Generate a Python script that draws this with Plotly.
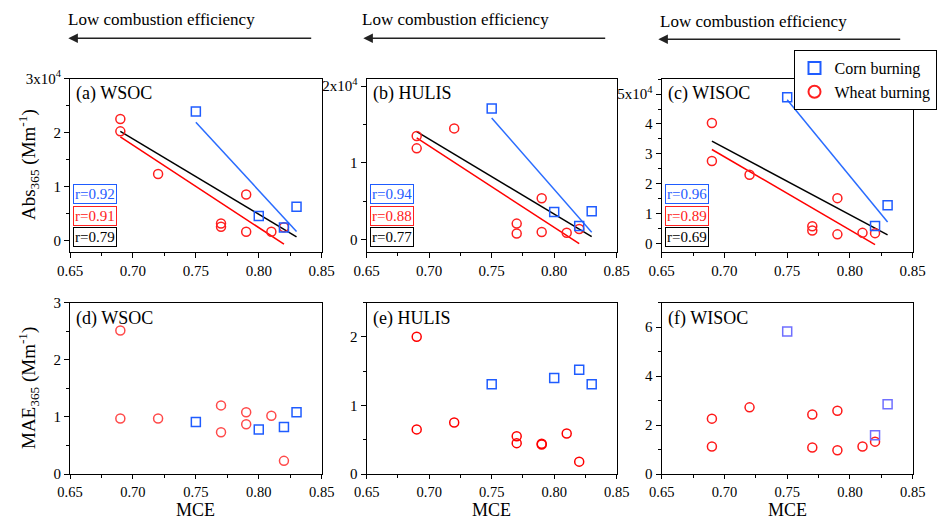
import numpy as np
import plotly.graph_objects as go

W, H = 941, 522
FONT = "Liberation Serif"

# Modified combustion efficiency of each burning sample
mce_wheat = [0.69, 0.69, 0.72, 0.77, 0.77, 0.79, 0.79, 0.81, 0.82]
mce_corn = [0.75, 0.80, 0.82, 0.83]
mce_corn_wisoc = [0.75, 0.82, 0.83]

# Abs365 (Mm-1)
abs_wsoc_wheat = [22500, 20200, 12300, 3100, 2500, 8500, 1600, 1600, 2400]
abs_wsoc_corn = [23900, 4500, 2350, 6200]
abs_hulis_wheat = [13500, 11900, 14500, 2100, 800, 5400, 1000, 900, 1400]
abs_hulis_corn = [17100, 3600, 1800, 3700]
abs_wisoc_wheat = [40300, 27600, 23000, 5800, 4400, 15200, 3100, 3600, 3500]
abs_wisoc_corn = [48900, 5900, 12800]

# MAE365
mae_wsoc_wheat = [2.51, 0.97, 0.97, 1.20, 0.73, 1.08, 0.87, 1.02, 0.23]
mae_wsoc_corn = [0.91, 0.78, 0.82, 1.08]
mae_hulis_wheat = [2.00, 0.65, 0.75, 0.55, 0.45, 0.44, 0.43, 0.59, 0.18]
mae_hulis_corn = [1.31, 1.40, 1.52, 1.31]
mae_wisoc_wheat = [2.26, 1.12, 2.72, 2.43, 1.08, 2.58, 0.97, 1.12, 1.32]
mae_wisoc_corn = [5.82, 1.58, 2.85]

# Correlation coefficients (corn, wheat, all)
r_wsoc = ["0.92", "0.91", "0.79"]
r_hulis = ["0.94", "0.88", "0.77"]
r_wisoc = ["0.96", "0.89", "0.69"]

panel_labels = ["(a) WSOC", "(b) HULIS", "(c) WISOC", "(d) WSOC", "(e) HULIS", "(f) WISOC"]
x_ticks = [0.65, 0.70, 0.75, 0.80, 0.85]
x_ticktext = ["0.65", "0.70", "0.75", "0.80", "0.85"]

BLUE = "#1f5cff"
RED = "#ff1f1f"


def px(x, y):
    return x / W, 1 - y / H


# pixel boxes of the six panels: (left, right), (top, bottom)
cols = [(70, 321.7), (366.7, 616.7), (661.7, 912.7)]
rows = [(78.5, 252), (302.5, 474)]

panels = [
    dict(cx=mce_corn, cy=abs_wsoc_corn, wy=abs_wsoc_wheat, fit=True, r=r_wsoc,
         yr=[-2170, 30000], tv=[0, 1e4, 2e4, 3e4], tt=["0", "1", "2", "3x10<sup>4</sup>"], minor=5000,
         cb=BLUE, cr=RED),
    dict(cx=mce_corn, cy=abs_hulis_corn, wy=abs_hulis_wheat, fit=True, r=r_hulis,
         yr=[-1600, 21000], tv=[0, 1e4, 2e4], tt=["0", "1", "2x10<sup>4</sup>"], minor=5000,
         cb=BLUE, cr=RED),
    dict(cx=mce_corn_wisoc, cy=abs_wisoc_corn, wy=abs_wisoc_wheat, fit=True, r=r_wisoc,
         yr=[-2800, 55200], tv=[0, 1e4, 2e4, 3e4, 4e4, 5e4],
         tt=["0", "1", "2", "3", "4", "5x10<sup>4</sup>"], minor=5000,
         cb=BLUE, cr=RED),
    dict(cx=mce_corn, cy=mae_wsoc_corn, wy=mae_wsoc_wheat, fit=False,
         yr=[0, 3], tv=[0, 1, 2, 3], tt=["0", "1", "2", "3"], minor=0.5,
         cb=BLUE, cr="#ff4a4a"),
    dict(cx=mce_corn, cy=mae_hulis_corn, wy=mae_hulis_wheat, fit=False,
         yr=[0, 2.5], tv=[0, 1, 2], tt=["0", "1", "2"], minor=0.5,
         cb=BLUE, cr="#ff0000"),
    dict(cx=mce_corn_wisoc, cy=mae_wisoc_corn, wy=mae_wisoc_wheat, fit=False,
         yr=[0, 7], tv=[0, 2, 4, 6], tt=["0", "2", "4", "6"], minor=1,
         cb="#6f6fff", cr="#ff1a1a"),
]

fig = go.Figure()
layout = dict(
    width=W, height=H,
    margin=dict(l=0, r=0, t=0, b=0, autoexpand=False),
    paper_bgcolor="white", plot_bgcolor="white",
    font=dict(family=FONT, size=15, color="black"),
    annotations=[],
    showlegend=True,
)

axis_common = dict(
    showline=True, linecolor="black", linewidth=1.2, mirror=True,
    showgrid=False, zeroline=False,
    ticks="outside", ticklen=5, tickwidth=1.2, tickcolor="black",
    tickfont=dict(family=FONT, size=15, color="black"),
)

for i, p in enumerate(panels):
    ci, ri = i % 3, i // 3
    l, r = cols[ci]
    t, b = rows[ri]
    n = "" if i == 0 else str(i + 1)
    xa, ya = "x" + n, "y" + n

    layout["xaxis" + n] = dict(
        axis_common, domain=[l / W, r / W], anchor=ya, range=[0.65, 0.85],
        tickmode="array", tickvals=x_ticks, ticktext=x_ticktext,
        ticklen=5 if ri == 0 else 4,
        tickfont=dict(family=FONT, size=15 if ri == 0 else 14.5, color="black"),
        minor=dict(ticks="outside", ticklen=3, tickwidth=1, tickcolor="black",
                   tickmode="linear", tick0=0.65, dtick=0.025),
    )
    layout["yaxis" + n] = dict(
        axis_common, domain=[1 - b / H, 1 - t / H], anchor=xa, range=p["yr"],
        tickmode="array", tickvals=p["tv"], ticktext=p["tt"],
        minor=dict(ticks="outside", ticklen=3, tickwidth=1, tickcolor="black",
                   tickmode="linear", tick0=0, dtick=p["minor"]),
    )

    # least-squares fits drawn across each group's MCE span
    if p["fit"]:
        groups = [
            (p["cx"], p["cy"], "#2a6cff"),
            (mce_wheat, p["wy"], "#ff0000"),
            (list(mce_wheat) + list(p["cx"]), list(p["wy"]) + list(p["cy"]), "black"),
        ]
        for gx, gy, col in groups:
            k, c0 = np.polyfit(gx, gy, 1)
            xs = np.array([min(gx), max(gx)])
            fig.add_trace(go.Scatter(x=xs, y=k * xs + c0, mode="lines",
                                     line=dict(color=col, width=1.5),
                                     xaxis=xa, yaxis=ya, showlegend=False,
                                     hoverinfo="skip"))

    fig.add_trace(go.Scatter(
        x=mce_wheat, y=p["wy"], mode="markers", name="Wheat burning",
        marker=dict(symbol="circle-open", size=9, color=p["cr"], line=dict(width=1.5, color=p["cr"])),
        xaxis=xa, yaxis=ya, showlegend=(i == 0), legendrank=2,
    ))
    fig.add_trace(go.Scatter(
        x=p["cx"], y=p["cy"], mode="markers", name="Corn burning",
        marker=dict(symbol="square-open", size=9, color=p["cb"], line=dict(width=1.5, color=p["cb"])),
        xaxis=xa, yaxis=ya, showlegend=(i == 0), legendrank=1,
    ))

    # panel label
    lx, ly = px(l + 4, t + 15.5)
    layout["annotations"].append(dict(
        text=panel_labels[i], x=lx, y=ly, xref="paper", yref="paper",
        xanchor="left", yanchor="middle", showarrow=False,
        font=dict(family=FONT, size=18, color="black"),
    ))

    # correlation boxes
    if p["fit"]:
        for j, (val, col) in enumerate(zip(p["r"], [BLUE, "#ff2020", "black"])):
            bx, by = px(l + 3, 194.5 + 21.3 * j)
            layout["annotations"].append(dict(
                text="r=" + val, x=bx, y=by, xref="paper", yref="paper",
                xanchor="left", yanchor="middle", showarrow=False,
                font=dict(family=FONT, size=15, color=col),
                bordercolor=col, borderwidth=1, borderpad=1, bgcolor="white",
            ))

    # x axis title under the bottom row
    if ri == 1:
        mx, my = px((l + r) / 2, 522)
        layout["annotations"].append(dict(
            text="MCE", x=mx, y=my, xref="paper", yref="paper",
            xanchor="center", yanchor="bottom", showarrow=False,
            font=dict(family=FONT, size=18, color="black"),
        ))

    # header: direction of decreasing combustion efficiency
    if ri == 0:
        hy = [20, 20, 21.7][ci]
        ay_ = [38.3, 38.3, 39.3][ci]
        x_head = [68.3, 363.3, 658.3][ci]
        x_tail = [312.7, 606.7, 901.7][ci]
        tx, ty = px([161, 455.5, 753][ci], hy)
        layout["annotations"].append(dict(
            text="Low combustion efficiency", x=tx, y=ty, xref="paper", yref="paper",
            xanchor="center", yanchor="middle", showarrow=False,
            font=dict(family=FONT, size=17, color="black"),
        ))
        hx, hy2 = px(x_head, ay_)
        layout["annotations"].append(dict(
            text="", x=hx, y=hy2, xref="paper", yref="paper",
            ax=x_tail - x_head, ay=0, showarrow=True,
            arrowhead=2, arrowsize=1.2, arrowwidth=1.6, arrowcolor="#222222",
        ))

# y axis titles
for txt, yc in [("Abs<sub>365</sub> (Mm<sup>-1</sup>)", 165),
                ("MAE<sub>365</sub> (Mm<sup>-1</sup>)", 388)]:
    tx, ty = px(28, yc)
    layout["annotations"].append(dict(
        text=txt, x=tx, y=ty, xref="paper", yref="paper", textangle=-90,
        xanchor="center", yanchor="middle", showarrow=False,
        font=dict(family=FONT, size=19, color="black"),
    ))

lgx, lgy = px(793.5, 50)
layout["legend"] = dict(
    x=lgx, y=lgy, xanchor="left", yanchor="top",
    bordercolor="black", borderwidth=1, bgcolor="white",
    font=dict(family=FONT, size=16, color="black"),
    tracegroupgap=0, itemsizing="constant",
)

fig.update_layout(**layout)
fig.write_html("out.html")
